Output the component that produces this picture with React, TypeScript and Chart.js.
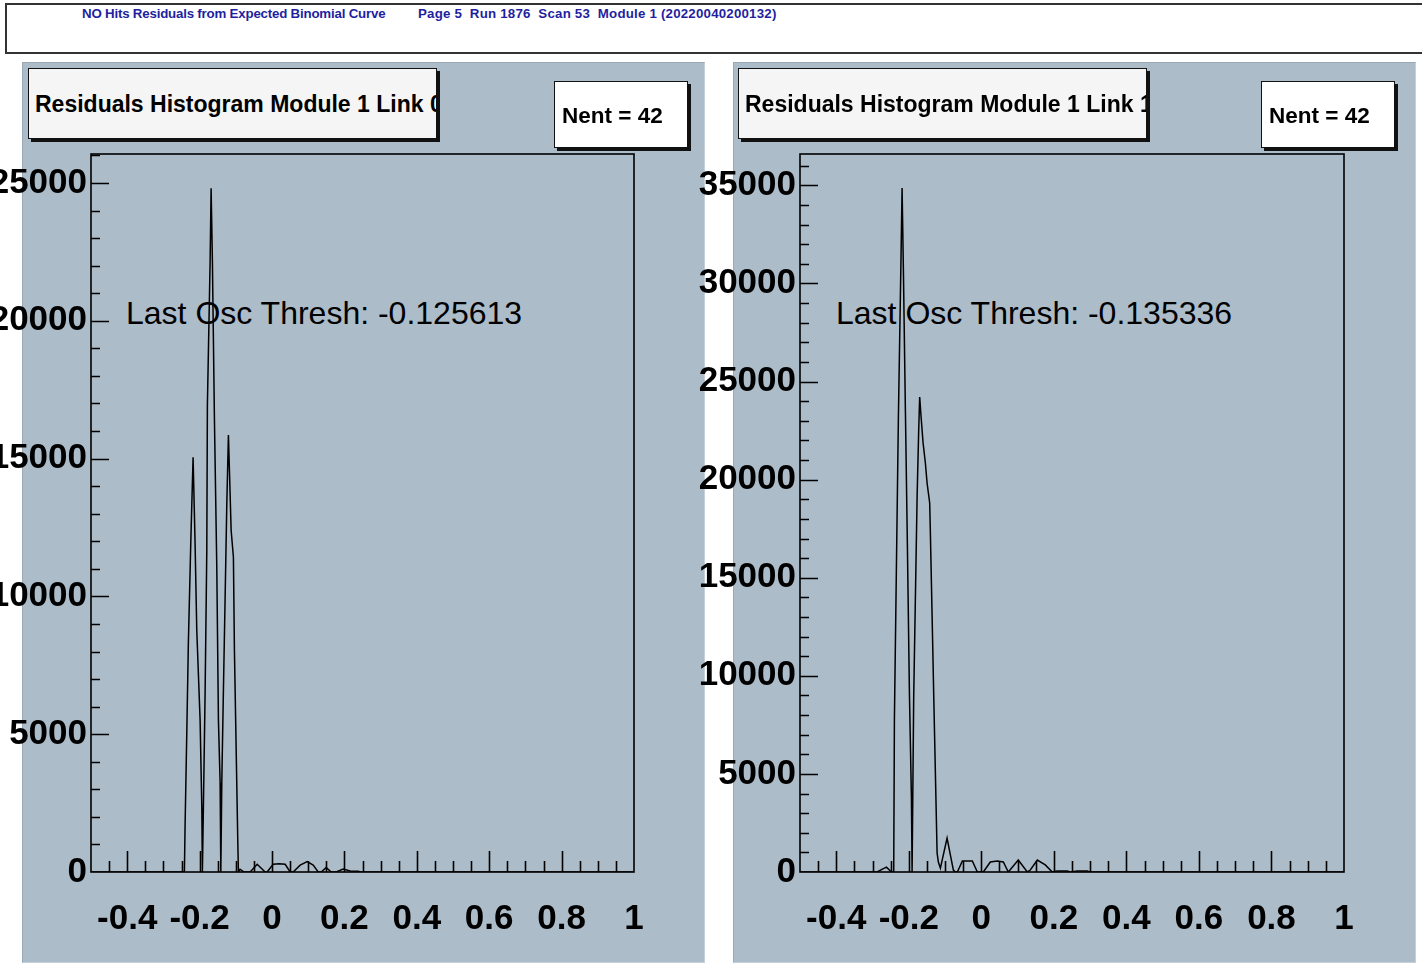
import React, { useEffect, useRef } from 'react';
import { Chart, registerables } from 'chart.js';

Chart.register(...registerables);

const FONT = "'Liberation Sans', Arial, Helvetica, sans-serif";
const PAD_COLOR = '#adbcc9';

// Axis labels
const X_TICKS = [-0.4, -0.2, 0, 0.2, 0.4, 0.6, 0.8, 1];
const LINK0_Y_TICKS = [0, 5000, 10000, 15000, 20000, 25000];
const LINK1_Y_TICKS = [0, 5000, 10000, 15000, 20000, 25000, 30000, 35000];
const X_MIN = -0.5;
const X_MAX = 1.0;
const LINK0_Y_MAX = 26050;
const LINK1_Y_MAX = 36600;

// Residual histogram, link 0 (bin position, entries)
const link0X = [
  -0.5, -0.242, -0.2401, -0.2354, -0.231, -0.2244, -0.218, -0.2125, -0.2078, -0.1986, -0.1939, -0.1923,
  -0.1895, -0.1848, -0.1801, -0.1785, -0.171, -0.1682, -0.1646, -0.1591, -0.1525, -0.148, -0.1433, -0.1414,
  -0.1386, -0.1342, -0.1295, -0.1248, -0.1204, -0.1176, -0.1129, -0.1066, -0.1038, -0.0991, -0.0944, -0.0928,
  -0.0881, -0.077, -0.0604, -0.041, -0.0189, -0.0134, 0.0032, 0.0198, 0.0364, 0.0502, 0.0585, 0.0778,
  0.0972, 0.1138, 0.1276, 0.1359, 0.1497, 0.1635, 0.1774, 0.1967, 0.2161, 0.2382, 0.2437, 1.0,
];
const link0Y = [
  0, 0, 1700, 5040, 8340, 11930, 15050, 11930, 8770, 5510, 2360, 0,
  2360, 6490, 11680, 16930, 22120, 24810, 22120, 16500, 11020, 5510, 3230, 0,
  3340, 6600, 9970, 13380, 15850, 14580, 12400, 11420, 8050, 4530, 1050, 0,
  100, 0, 0, 280, 0, 0, 280, 300, 280, 0, 0, 250,
  380, 250, 0, 0, 160, 0, 0, 110, 40, 30, 0, 0,
];

// Residual histogram, link 1 (bin position, entries)
const link1X = [
  -0.5, -0.2873, -0.2727, -0.2617, -0.2534, -0.2493, -0.2416, -0.2397, -0.2342, -0.2287, -0.2218, -0.2185,
  -0.2149, -0.2094, -0.2039, -0.1983, -0.1928, -0.1909, -0.1865, -0.1818, -0.1771, -0.1727, -0.17, -0.1661,
  -0.1606, -0.1543, -0.1496, -0.1424, -0.1405, -0.1358, -0.1314, -0.1267, -0.122, -0.1185, -0.1129, -0.0945,
  -0.0771, -0.0716, -0.0661, -0.0523, -0.0248, -0.011, 0.0055, 0.0248, 0.0441, 0.0606, 0.0744, 0.1019,
  0.1267, 0.135, 0.1543, 0.1763, 0.1956, 0.2094, 0.2369, 0.2452, 0.2645, 0.292, 0.3003, 1.0,
];
const link1Y = [
  0, 0, 150, 250, 100, 0, 0, 7750, 15500, 23190, 30940, 34860,
  30680, 23550, 16670, 9120, 3820, 0, 8920, 14020, 19110, 22530, 24210, 23190,
  21870, 20850, 19830, 18810, 17280, 13100, 9120, 5050, 970, 510, 200, 1730,
  100, 0, 0, 560, 560, 0, 0, 510, 560, 510, 0, 610,
  0, 100, 610, 360, 0, 50, 50, 0, 50, 50, 0, 0,
];

// Frame box with inward-pointing major/minor ticks
const rootFrame = {
  id: 'rootFrame',
  afterDatasetsDraw(chart: any) {
    const { ctx, chartArea: a } = chart;
    const sx = chart.scales.x;
    const sy = chart.scales.y;
    ctx.save();
    ctx.strokeStyle = '#000';
    ctx.lineWidth = 1.6;
    ctx.beginPath();
    for (let i = 1; i < 30; i++) {
      const v = X_MIN + i * 0.05;
      const px = Math.round(sx.getPixelForValue(v)) + 0.5;
      const len = i % 4 === 2 ? 21 : 11;
      ctx.moveTo(px, a.bottom);
      ctx.lineTo(px, a.bottom - len);
    }
    for (let v = 1000; v < sy.max; v += 1000) {
      const py = Math.round(sy.getPixelForValue(v)) + 0.5;
      const len = v % 5000 === 0 ? 18 : 9;
      ctx.moveTo(a.left, py);
      ctx.lineTo(a.left + len, py);
    }
    ctx.stroke();
    ctx.strokeRect(a.left, a.top, a.right - a.left, a.bottom - a.top);
    ctx.restore();
  },
};

type PlotProps = {
  xs: number[];
  ys: number[];
  yMax: number;
  yTicks: number[];
  left: number;
  width: number;
  axisWidth: number;
  padRight: number;
};

const CANVAS_TOP = 145;
const CANVAS_H = 822;

function ResidualPlot({ xs, ys, yMax, yTicks, left, width, axisWidth, padRight }: PlotProps) {
  const ref = useRef<HTMLCanvasElement>(null);
  useEffect(() => {
    const tickFont = { family: FONT, size: 35, weight: 'bold' as const };
    const chart = new Chart(ref.current as HTMLCanvasElement, {
      type: 'line',
      data: {
        datasets: [
          {
            data: xs.map((x, i) => ({ x, y: ys[i] })),
            borderColor: '#000',
            borderWidth: 1.5,
            pointRadius: 0,
            tension: 0,
            fill: false,
          },
        ],
      },
      options: {
        animation: false,
        responsive: false,
        maintainAspectRatio: false,
        events: [],
        layout: { padding: { top: 9, right: padRight, left: 0, bottom: 0 } },
        plugins: {
          legend: { display: false },
          tooltip: { enabled: false },
          title: { display: false },
        },
        scales: {
          x: {
            type: 'linear',
            min: X_MIN,
            max: X_MAX,
            grid: { display: false, drawTicks: false },
            border: { display: false },
            afterBuildTicks: (s: any) => {
              s.ticks = X_TICKS.map((value) => ({ value }));
            },
            afterFit: (s: any) => {
              s.height = 95;
              s.paddingLeft = 0;
              s.paddingRight = 0;
            },
            ticks: {
              font: tickFont,
              color: '#000',
              padding: 26,
              maxRotation: 0,
              autoSkip: false,
              callback: (v: any) => String(v),
            },
          },
          y: {
            type: 'linear',
            min: 0,
            max: yMax,
            grid: { display: false, drawTicks: false },
            border: { display: false },
            afterBuildTicks: (s: any) => {
              s.ticks = yTicks.map((value) => ({ value }));
            },
            afterFit: (s: any) => {
              s.width = axisWidth;
              s.paddingTop = 0;
              s.paddingBottom = 0;
            },
            ticks: {
              font: tickFont,
              color: '#000',
              padding: 4,
              autoSkip: false,
              callback: (v: any) => String(v),
            },
          },
        },
      },
      plugins: [rootFrame],
    } as any);
    return () => chart.destroy();
  }, []);
  return (
    <canvas
      ref={ref}
      width={width}
      height={CANVAS_H}
      style={{ position: 'absolute', left, top: CANVAS_TOP, width, height: CANVAS_H, zIndex: 2 }}
    />
  );
}

function TitleBox({ left, text }: { left: number; text: string }) {
  return (
    <div
      style={{
        position: 'absolute',
        left,
        top: 68,
        width: 409,
        height: 71,
        boxSizing: 'border-box',
        border: '1px solid #111',
        background: '#f5f5f5',
        boxShadow: '3px 3px 0 #111',
        overflow: 'hidden',
        zIndex: 3,
      }}
    >
      <span
        style={{
          position: 'absolute',
          left: 6,
          top: 23.5,
          font: `bold 23px ${FONT}`,
          lineHeight: '23px',
          whiteSpace: 'nowrap',
          color: '#000',
        }}
      >
        {text}
      </span>
    </div>
  );
}

function EntriesBox({ left, text }: { left: number; text: string }) {
  return (
    <div
      style={{
        position: 'absolute',
        left,
        top: 81,
        width: 134,
        height: 67,
        boxSizing: 'border-box',
        border: '1px solid #111',
        background: '#ffffff',
        boxShadow: '3px 3px 0 #111',
        overflow: 'hidden',
        zIndex: 3,
      }}
    >
      <span
        style={{
          position: 'absolute',
          left: 7,
          top: 23,
          font: `bold 22.5px ${FONT}`,
          lineHeight: '22.5px',
          whiteSpace: 'nowrap',
          color: '#000',
        }}
      >
        {text}
      </span>
    </div>
  );
}

function Pad({ left }: { left: number }) {
  return (
    <div
      style={{
        position: 'absolute',
        left,
        top: 62,
        width: 683,
        height: 901,
        boxSizing: 'border-box',
        background: PAD_COLOR,
        borderLeft: '1px solid #9aa9b6',
        borderTop: '1px solid #9aa9b6',
        borderRight: '1px solid #c4d0da',
        borderBottom: '1px solid #c4d0da',
        zIndex: 0,
      }}
    />
  );
}

function ThreshLabel({ left, text }: { left: number; text: string }) {
  return (
    <span
      style={{
        position: 'absolute',
        left,
        top: 297,
        font: `32px ${FONT}`,
        lineHeight: '32px',
        whiteSpace: 'nowrap',
        color: '#000',
        zIndex: 1,
      }}
    >
      {text}
    </span>
  );
}

export default function App() {
  useEffect(() => {
    document.body.style.margin = '0';
  }, []);
  const headerText = {
    position: 'absolute' as const,
    top: 6.7,
    font: `bold 13.3px ${FONT}`,
    lineHeight: '13.3px',
    whiteSpace: 'nowrap' as const,
    color: '#1f1fa0',
  };
  return (
    <div
      style={{
        position: 'absolute',
        left: 0,
        top: 0,
        width: 1422,
        height: 967,
        overflow: 'hidden',
        background: '#ffffff',
      }}
    >
      <div
        style={{
          position: 'absolute',
          left: 5,
          top: 3,
          width: 1440,
          height: 51,
          boxSizing: 'border-box',
          border: '2px solid #333',
          background: '#ffffff',
        }}
      />
      <span style={{ ...headerText, left: 82, letterSpacing: '-0.2px' }}>
        NO Hits Residuals from Expected Binomial Curve
      </span>
      <span style={{ ...headerText, left: 418, letterSpacing: '0.2px' }}>
        Page 5&nbsp;&nbsp;Run 1876&nbsp;&nbsp;Scan 53&nbsp;&nbsp;Module 1 (20220040200132)
      </span>

      <Pad left={22} />
      <Pad left={733} />

      <ThreshLabel left={126} text="Last Osc Thresh: -0.125613" />
      <ThreshLabel left={836} text="Last Osc Thresh: -0.135336" />

      <ResidualPlot
        xs={link0X}
        ys={link0Y}
        yMax={LINK0_Y_MAX}
        yTicks={LINK0_Y_TICKS}
        left={0}
        width={705}
        axisWidth={91}
        padRight={71}
      />
      <ResidualPlot
        xs={link1X}
        ys={link1Y}
        yMax={LINK1_Y_MAX}
        yTicks={LINK1_Y_TICKS}
        left={690}
        width={732}
        axisWidth={110}
        padRight={78}
      />

      <TitleBox left={28} text="Residuals Histogram Module 1 Link 0" />
      <EntriesBox left={554} text="Nent = 42" />
      <TitleBox left={738} text="Residuals Histogram Module 1 Link 1" />
      <EntriesBox left={1261} text="Nent = 42" />
    </div>
  );
}
